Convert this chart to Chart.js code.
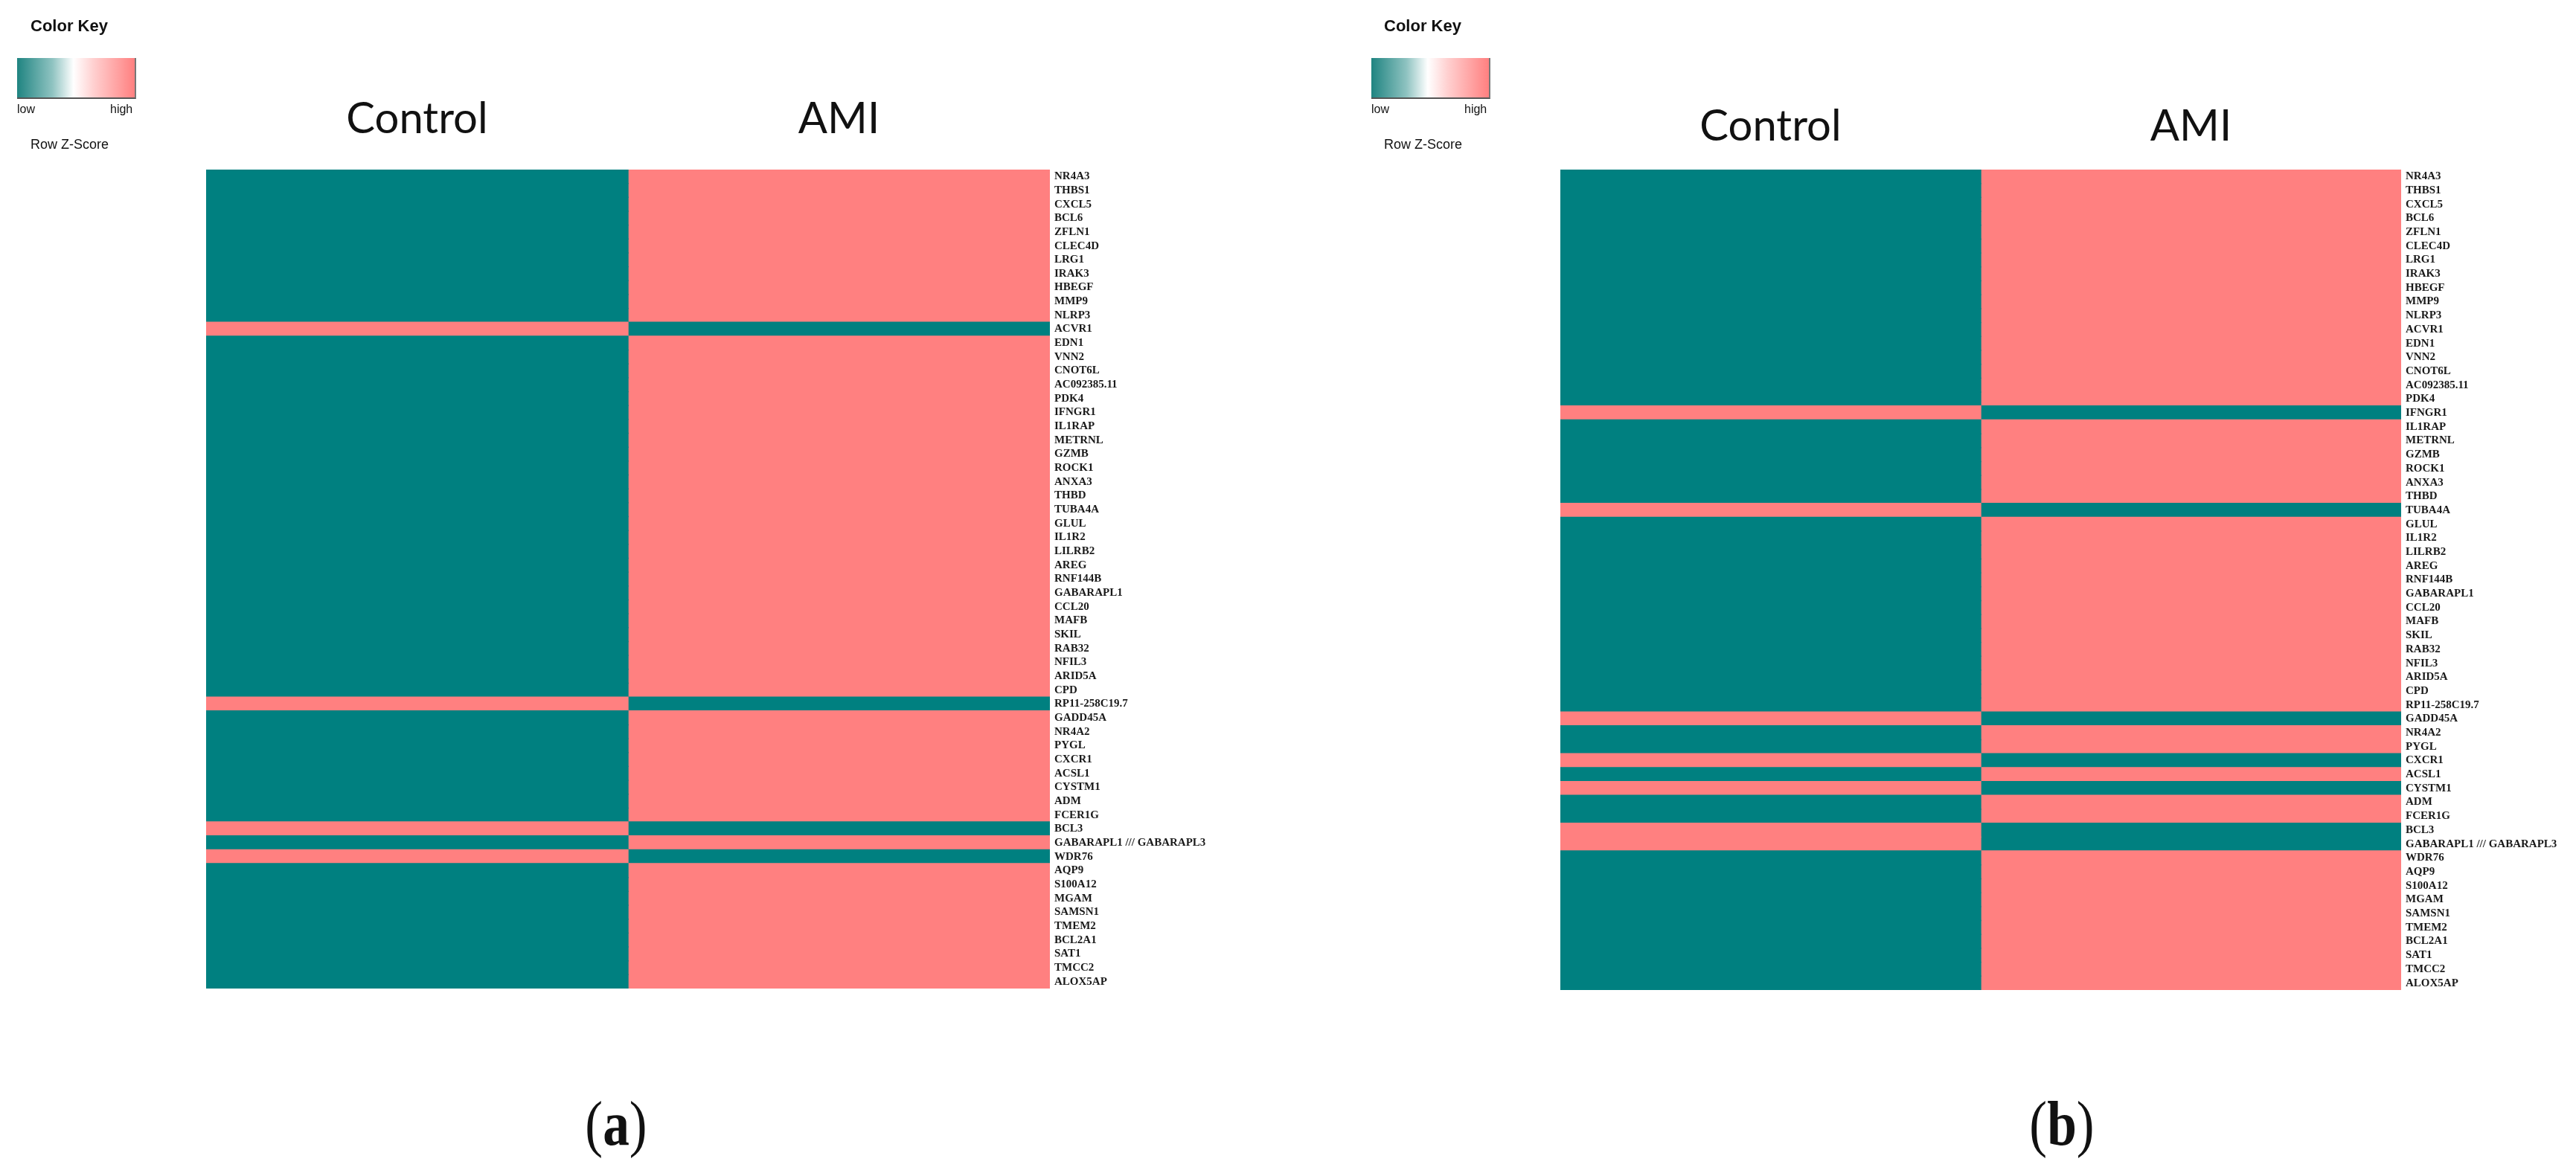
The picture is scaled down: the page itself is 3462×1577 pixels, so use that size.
<!DOCTYPE html>
<html>
<head>
<meta charset="utf-8">
<script src="https://cdn.jsdelivr.net/npm/chart.js@4.4.0/dist/chart.umd.min.js"></script>
<style>
  html, body { margin: 0; padding: 0; background: #fff; }
  body { width: 3462px; height: 1577px; position: relative; overflow: hidden; font-family: "Liberation Sans", Arial, sans-serif; color: #111; }
  canvas { position: absolute; top: 0; }
  .txt { position: absolute; white-space: nowrap; }
  .keyTitle { font-size: 22px; line-height: 22px; font-weight: bold; top: 24px; }
  .keyBar { position: absolute; top: 78px; width: 158px; height: 53px;
            background: linear-gradient(to right, #1f8481 0%, #8fc3c1 30%, #ffffff 48%, #ffd0d0 65%, #ff8080 100%);
            border-right: 2px solid #777; border-bottom: 2px solid #555; }
  .keyLab { font-size: 16px; line-height: 16px; top: 139px; }
  .keyFoot { font-size: 18px; line-height: 18px; top: 185px; }
  .panelTag { font-family: "Liberation Serif", "Times New Roman", serif; font-size: 84px; line-height: 84px; top: 1469px; transform: translateX(-50%) scaleX(0.85); }
</style>
</head>
<body>

<canvas id="heatA" width="1731" height="1577" style="left:0px"></canvas>
<canvas id="heatB" width="1731" height="1577" style="left:1731px"></canvas>

<!-- colour keys -->
<div class="txt keyTitle" style="left:41px">Color Key</div>
<div class="keyBar" style="left:23px"></div>
<div class="txt keyLab" style="left:23px">low</div>
<div class="txt keyLab" style="left:148px">high</div>
<div class="txt keyFoot" style="left:41px">Row Z-Score</div>

<div class="txt keyTitle" style="left:1860px">Color Key</div>
<div class="keyBar" style="left:1843px"></div>
<div class="txt keyLab" style="left:1843px">low</div>
<div class="txt keyLab" style="left:1968px">high</div>
<div class="txt keyFoot" style="left:1860px">Row Z-Score</div>

<div class="txt panelTag" style="left:828px">(<b>a</b>)</div>
<div class="txt panelTag" style="left:2771px">(<b>b</b>)</div>

<script>
// columns and genes (same row order in both panels)
const columns = ['Control', 'AMI'];

const genes = [
  'NR4A3', 'THBS1', 'CXCL5', 'BCL6', 'ZFLN1', 'CLEC4D', 'LRG1', 'IRAK3', 'HBEGF', 'MMP9',
  'NLRP3', 'ACVR1', 'EDN1', 'VNN2', 'CNOT6L', 'AC092385.11', 'PDK4', 'IFNGR1', 'IL1RAP', 'METRNL',
  'GZMB', 'ROCK1', 'ANXA3', 'THBD', 'TUBA4A', 'GLUL', 'IL1R2', 'LILRB2', 'AREG', 'RNF144B',
  'GABARAPL1', 'CCL20', 'MAFB', 'SKIL', 'RAB32', 'NFIL3', 'ARID5A', 'CPD', 'RP11-258C19.7', 'GADD45A',
  'NR4A2', 'PYGL', 'CXCR1', 'ACSL1', 'CYSTM1', 'ADM', 'FCER1G', 'BCL3', 'GABARAPL1 /// GABARAPL3', 'WDR76',
  'AQP9', 'S100A12', 'MGAM', 'SAMSN1', 'TMEM2', 'BCL2A1', 'SAT1', 'TMCC2', 'ALOX5AP'
];

// row z-scores (two samples -> about +/-0.71)
const lo = -0.71, hi = 0.71;

const controlA = [
  lo, lo, lo, lo, lo, lo, lo, lo, lo, lo,
  lo, hi, lo, lo, lo, lo, lo, lo, lo, lo,
  lo, lo, lo, lo, lo, lo, lo, lo, lo, lo,
  lo, lo, lo, lo, lo, lo, lo, lo, hi, lo,
  lo, lo, lo, lo, lo, lo, lo, hi, lo, hi,
  lo, lo, lo, lo, lo, lo, lo, lo, lo
];
const amiA = [
  hi, hi, hi, hi, hi, hi, hi, hi, hi, hi,
  hi, lo, hi, hi, hi, hi, hi, hi, hi, hi,
  hi, hi, hi, hi, hi, hi, hi, hi, hi, hi,
  hi, hi, hi, hi, hi, hi, hi, hi, lo, hi,
  hi, hi, hi, hi, hi, hi, hi, lo, hi, lo,
  hi, hi, hi, hi, hi, hi, hi, hi, hi
];

const controlB = [
  lo, lo, lo, lo, lo, lo, lo, lo, lo, lo,
  lo, lo, lo, lo, lo, lo, lo, hi, lo, lo,
  lo, lo, lo, lo, hi, lo, lo, lo, lo, lo,
  lo, lo, lo, lo, lo, lo, lo, lo, lo, hi,
  lo, lo, hi, lo, hi, lo, lo, hi, hi, lo,
  lo, lo, lo, lo, lo, lo, lo, lo, lo
];
const amiB = [
  hi, hi, hi, hi, hi, hi, hi, hi, hi, hi,
  hi, hi, hi, hi, hi, hi, hi, lo, hi, hi,
  hi, hi, hi, hi, lo, hi, hi, hi, hi, hi,
  hi, hi, hi, hi, hi, hi, hi, hi, hi, lo,
  hi, hi, lo, hi, lo, hi, hi, lo, lo, hi,
  hi, hi, hi, hi, hi, hi, hi, hi, hi
];

// teal - white - salmon colour scale
const zMax = 0.71;
const lowRGB = [0, 128, 128], midRGB = [255, 255, 255], highRGB = [255, 128, 128];

function zColor(z) {
  const t = Math.max(-1, Math.min(1, z / zMax));
  const end = t < 0 ? lowRGB : highRGB;
  const f = Math.abs(t);
  const c = midRGB.map((m, i) => Math.round(m + (end[i] - m) * f));
  return 'rgb(' + c.join(',') + ')';
}

function makeHeatmap(id, controlVals, amiVals, box) {
  const cell = (vals, label) => ({
    label: label,
    data: vals.map(() => 1),          // each cell is one column wide
    backgroundColor: vals.map(zColor),
    borderWidth: 0,
    inflateAmount: 0.7,               // hide hairline seams between rows
    barPercentage: 1,
    categoryPercentage: 1
  });

  return new Chart(document.getElementById(id), {
    type: 'bar',
    data: {
      labels: genes,
      datasets: [cell(controlVals, columns[0]), cell(amiVals, columns[1])]
    },
    options: {
      indexAxis: 'y',
      responsive: false,
      animation: false,
      layout: { padding: { left: box.left, right: 0, top: 0, bottom: box.bottom } },
      scales: {
        x: {
          type: 'linear',
          position: 'top',
          stacked: true,
          min: 0,
          max: columns.length,
          grid: { display: false, drawTicks: false },
          border: { display: false },
          afterBuildTicks: s => { s.ticks = columns.map((c, i) => ({ value: i + 0.5 })); },
          afterFit: s => { s.height = box.top; },
          ticks: {
            autoSkip: false,
            maxRotation: 0,
            padding: box.titlePad,
            color: '#111',
            font: { family: 'Lato', size: 58 },
            callback: v => columns[Math.floor(v)]
          }
        },
        y: {
          position: 'right',
          stacked: true,
          grid: { display: false, drawTicks: false },
          border: { display: false },
          afterFit: s => { s.width = box.labelWidth; },
          ticks: {
            autoSkip: false,
            padding: 6,
            color: '#1a1a1a',
            font: { family: 'Liberation Serif', size: 15, weight: 'bold' }
          }
        }
      },
      plugins: {
        legend: { display: false },
        tooltip: { enabled: false }
      }
    }
  });
}

makeHeatmap('heatA', controlA, amiA, { left: 277, top: 228, bottom: 248, labelWidth: 320, titlePad: 33 });
makeHeatmap('heatB', controlB, amiB, { left: 366, top: 228, bottom: 246, labelWidth: 235, titlePad: 23 });
</script>
</body>
</html>
